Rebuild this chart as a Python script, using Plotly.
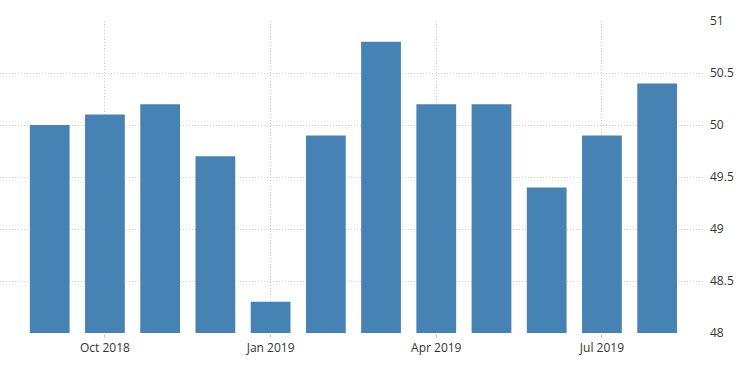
import plotly.graph_objects as go

months = ["Sep 2018", "Oct 2018", "Nov 2018", "Dec 2018", "Jan 2019", "Feb 2019",
          "Mar 2019", "Apr 2019", "May 2019", "Jun 2019", "Jul 2019", "Aug 2019"]
values = [50.0, 50.1, 50.2, 49.7, 48.3, 49.9, 50.8, 50.2, 50.2, 49.4, 49.9, 50.4]
tick_labels = ["Oct 2018", "Jan 2019", "Apr 2019", "Jul 2019"]
y_ticks = [48, 48.5, 49, 49.5, 50, 50.5, 51]
y_tick_text = ["48", "48.5", "49", "49.5", "50", "50.5", "51"]

x = list(range(len(months)))
tick_pos = [months.index(t) for t in tick_labels]

fig = go.Figure(go.Bar(
    x=x, y=values, base=0, marker=dict(color="#4682B4", line=dict(width=0)),
    width=0.72, hovertext=months,
))

fig.update_layout(
    width=750, height=373,
    margin=dict(l=0, r=47, t=21, b=40, autoexpand=False),
    paper_bgcolor="white", plot_bgcolor="white",
    font=dict(family="Open Sans, DejaVu Sans, sans-serif", size=12, color="#333333"),
    showlegend=False,
    bargap=0.28,
)
fig.update_xaxes(
    range=[-0.9, 11.83], tickvals=tick_pos, ticktext=tick_labels,
    showgrid=True, gridcolor="#cfcfcf", griddash="1px,2px", gridwidth=1,
    ticks="outside", ticklen=4, tickcolor="#cccccc",
    zeroline=False, showline=False, automargin=False,
)
fig.update_yaxes(
    range=[48, 51], side="right", tickvals=y_ticks, ticktext=y_tick_text,
    showgrid=True, gridcolor="#cfcfcf", griddash="1px,2px", gridwidth=1,
    zeroline=False, showline=False, ticks="", ticklabelstandoff=6,
    automargin=False,
)

fig.write_html("out.html", config={"displayModeBar": False},
               post_script="document.body.style.margin='0';")
